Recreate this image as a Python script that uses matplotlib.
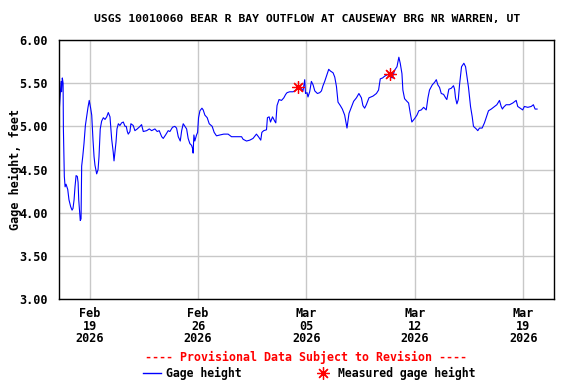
import matplotlib
matplotlib.use("Agg")
import matplotlib.pyplot as plt
import matplotlib.dates as mdates
from matplotlib.lines import Line2D
import pandas as pd

# gage height readings: days since 2026-02-17 00:00, value in feet
days = [0.00, 0.05, 0.12, 0.15, 0.18, 0.23, 0.28, 0.30, 0.36, 0.41, 0.47, 0.58,
        0.66, 0.77, 0.86, 0.92, 0.99, 1.05, 1.12, 1.20, 1.25, 1.29, 1.33, 1.39,
        1.44, 1.48, 1.55, 1.63, 1.72, 1.81, 1.89, 1.97, 2.06, 2.13, 2.21, 2.28,
        2.34, 2.45, 2.54, 2.60, 2.68, 2.77, 2.88, 2.99, 3.10, 3.20, 3.31, 3.42,
        3.52, 3.57, 3.63, 3.70, 3.76, 3.85, 3.95, 4.06, 4.17, 4.28, 4.36, 4.43,
        4.49, 4.60, 4.66, 4.81, 4.92, 5.07, 5.25, 5.35, 5.46, 5.68, 5.85, 6.00,
        6.21, 6.36, 6.49, 6.65, 6.75, 6.90, 7.07, 7.18, 7.35, 7.50, 7.61, 7.72,
        7.85, 7.94, 8.04, 8.15, 8.26, 8.36, 8.47, 8.58, 8.65, 8.68, 8.73, 8.79,
        8.90, 8.97, 9.03, 9.12, 9.25, 9.33, 9.44, 9.59, 9.72, 9.91, 10.04, 10.19,
        10.41, 10.66, 10.94, 11.16, 11.48, 11.81, 11.91, 12.13, 12.34, 12.55,
        12.77, 12.90, 13.05, 13.12, 13.24, 13.42, 13.48, 13.59, 13.68, 13.81,
        13.95, 14.02, 14.10, 14.23, 14.39, 14.54, 14.66, 14.75, 14.92, 15.14,
        15.31, 15.46, 15.61, 15.78, 15.89, 15.94, 16.04, 16.10, 16.21, 16.32,
        16.43, 16.54, 16.71, 16.86, 16.97, 17.07, 17.18, 17.29, 17.44, 17.55,
        17.72, 17.83, 17.94, 18.04, 18.19, 18.32, 18.47, 18.62, 18.75, 18.90,
        19.05, 19.23, 19.39, 19.55, 19.65, 19.76, 19.87, 20.04, 20.30, 20.52,
        20.66, 20.77, 20.92, 21.05, 21.25, 21.55, 21.70, 21.85, 21.97, 22.06,
        22.17, 22.23, 22.34, 22.49, 22.60, 22.71, 22.81, 22.99, 23.14, 23.26,
        23.42, 23.57, 23.74, 23.85, 23.95, 24.13, 24.28, 24.39, 24.49, 24.60,
        24.71, 24.86, 24.99, 25.07, 25.20, 25.35, 25.50, 25.57, 25.63, 25.72,
        25.81, 25.89, 26.02, 26.17, 26.28, 26.36, 26.47, 26.60, 26.71, 26.79,
        26.97, 27.07, 27.18, 27.35, 27.50, 27.61, 27.76, 27.94, 28.08, 28.30,
        28.47, 28.58, 28.66, 28.73, 28.90, 29.12, 29.33, 29.55, 29.65, 29.81,
        29.97, 30.08, 30.30, 30.52, 30.66, 30.77, 30.90]
gage = [5.09, 5.24, 5.45, 5.52, 5.40, 5.56, 5.50, 4.97, 4.42, 4.30, 4.33, 4.27,
        4.15, 4.07, 4.03, 4.05, 4.15, 4.30, 4.43, 4.42, 4.35, 4.15, 4.05, 3.91,
        3.93, 4.54, 4.65, 4.80, 5.01, 5.12, 5.22, 5.30, 5.21, 5.13, 4.85, 4.65,
        4.55, 4.45, 4.50, 4.65, 4.97, 5.06, 5.10, 5.08, 5.11, 5.16, 5.11, 4.85,
        4.70, 4.60, 4.70, 4.82, 4.97, 5.03, 5.01, 5.04, 5.05, 5.00, 5.00, 4.94,
        4.91, 4.94, 5.03, 5.01, 4.95, 4.97, 5.00, 5.02, 4.94, 4.95, 4.97, 4.95,
        4.97, 4.94, 4.95, 4.88, 4.86, 4.90, 4.95, 4.94, 4.99, 5.00, 4.98, 4.88,
        4.83, 4.95, 5.03, 5.00, 4.97, 4.86, 4.80, 4.78, 4.74, 4.69, 4.90, 4.83,
        4.90, 4.93, 5.10, 5.18, 5.21, 5.19, 5.13, 5.10, 5.03, 5.00, 4.93, 4.89,
        4.90, 4.91, 4.91, 4.88, 4.88, 4.88, 4.85, 4.83, 4.84, 4.86,
        4.91, 4.88, 4.84, 4.93, 4.95, 4.96, 5.10, 5.11, 5.05, 5.11,
        5.06, 5.04, 5.24, 5.31, 5.30, 5.33, 5.37, 5.39, 5.40, 5.40,
        5.42, 5.44, 5.45, 5.41, 5.54, 5.38, 5.39, 5.34, 5.40, 5.52,
        5.48, 5.41, 5.38, 5.39, 5.41, 5.47, 5.52, 5.58, 5.66, 5.64,
        5.62, 5.57, 5.46, 5.28, 5.24, 5.20, 5.13, 4.98, 5.15, 5.22,
        5.29, 5.33, 5.38, 5.33, 5.24, 5.21, 5.25, 5.33, 5.35, 5.38,
        5.42, 5.55, 5.56, 5.58, 5.60, 5.56, 5.65, 5.69, 5.80, 5.73,
        5.61, 5.42, 5.32, 5.29, 5.27, 5.15, 5.05, 5.09, 5.13, 5.18,
        5.19, 5.22, 5.19, 5.33, 5.42, 5.48, 5.51, 5.54, 5.48, 5.45,
        5.38, 5.37, 5.33, 5.31, 5.43, 5.44, 5.47, 5.43, 5.33, 5.26,
        5.31, 5.48, 5.69, 5.73, 5.69, 5.59, 5.45, 5.23, 5.11, 5.00,
        4.97, 4.95, 4.98, 4.98, 5.04, 5.10, 5.18, 5.20, 5.22, 5.25,
        5.30, 5.23, 5.20, 5.22, 5.25, 5.25, 5.27, 5.30, 5.23, 5.21,
        5.19, 5.23, 5.22, 5.23, 5.25, 5.20, 5.20]

# field measurements
meas_days = [15.46, 21.39]
meas_gage = [5.46, 5.61]

start = pd.Timestamp("2026-02-17")
t = start + pd.to_timedelta(days, unit="D")
tm = start + pd.to_timedelta(meas_days, unit="D")

plt.rcParams["font.family"] = "DejaVu Sans Mono"
plt.rcParams["font.weight"] = "bold"

fig = plt.figure(figsize=(5.76, 3.84), dpi=100)
ax = fig.add_axes([0.102, 0.221, 0.86, 0.675])

ax.plot(t, gage, color="#0000ff", linewidth=0.8)
star = (8, 2, 0)
ax.plot(tm, meas_gage, linestyle="none", marker=star, markersize=9,
        markeredgecolor="#ff0000", markeredgewidth=0.9, color="#ff0000")

ax.set_xlim(pd.Timestamp("2026-02-17"), pd.Timestamp("2026-03-21"))
ax.set_ylim(3.0, 6.0)
ax.set_yticks([3.0, 3.5, 4.0, 4.5, 5.0, 5.5, 6.0])
ax.yaxis.set_major_formatter(plt.FormatStrFormatter("%.2f"))
ticks = pd.to_datetime(["2026-02-19", "2026-02-26", "2026-03-05",
                        "2026-03-12", "2026-03-19"])
ax.set_xticks(ticks)
ax.xaxis.set_major_formatter(mdates.DateFormatter("%b\n%d\n%Y"))
ax.tick_params(length=0, labelsize=8.5)
ax.tick_params(axis="y", pad=8)
ax.tick_params(axis="x", pad=6)
for lab in ax.get_xticklabels():
    lab.set_linespacing(0.95)
ax.grid(True, color="#c8c8c8", linewidth=1.0)
ax.set_axisbelow(True)
for s in ax.spines.values():
    s.set_linewidth(1.0)

ax.set_ylabel("Gage height, feet", fontsize=8.5, fontweight="bold", labelpad=-2)
fig.text(0.533, 0.951, "USGS 10010060 BEAR R BAY OUTFLOW AT CAUSEWAY BRG NR WARREN, UT",
         ha="center", va="center", fontsize=8.2, fontweight="bold")
fig.text(0.532, 0.068, "---- Provisional Data Subject to Revision ----",
         ha="center", va="center", fontsize=8.4, fontweight="bold", color="#ff0000")

handles = [Line2D([], [], color="#0000ff", linewidth=1.0),
           Line2D([], [], linestyle="none", marker=star, markersize=9,
                  markeredgecolor="#ff0000", markeredgewidth=0.9)]
fig.legend(handles, ["Gage height", "Measured gage height"], loc="center",
           bbox_to_anchor=(0.537, 0.028), ncol=2, frameon=False, fontsize=8.3,
           handlelength=1.5, handletextpad=0.5, columnspacing=6.3,
           borderpad=0, borderaxespad=0)

fig.savefig("out.png", dpi=100)
